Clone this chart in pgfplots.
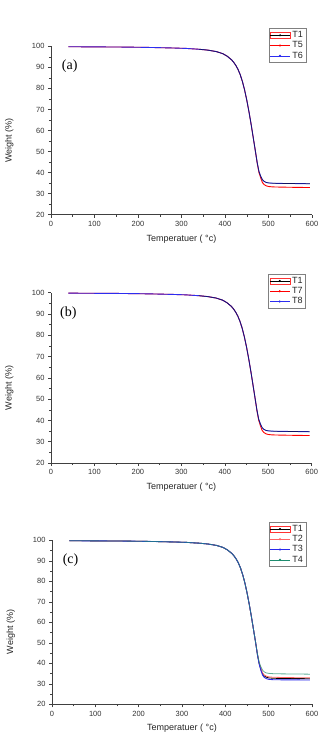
\documentclass[border=0pt]{standalone}
\usepackage{pgfplots}
\usepackage{pgfplotstable}
\pgfplotsset{compat=1.18}
\usepackage{fontspec}
\setmainfont{Liberation Sans}
\newfontfamily\seriffont{Liberation Serif}

\definecolor{cT2}{RGB}{255,100,100}
\definecolor{cT3}{RGB}{40,40,235}
\definecolor{cT4}{RGB}{30,140,110}
\definecolor{cBlue}{RGB}{45,45,240}

\pgfplotstableread{
x y
40 99.8
80 99.75
120 99.7
160 99.65
200 99.55
240 99.4
280 99.2
310 99.0
340 98.6
360 98.2
380 97.5
395 96.5
405 95.3
415 93.6
420 92.4
425 90.9
430 89.0
435 86.5
440 83.3
445 79.3
450 74.5
455 69.0
460 63.0
465 56.5
470 50.0
474 44.8
478 40.6
482 38.3
486 36.6
490 35.8
495 35.3
500 35.1
510 34.95
530 34.85
560 34.8
595 34.7
}\Thigh

\pgfplotstableread{
x y
40 99.8
80 99.75
120 99.7
160 99.65
200 99.55
240 99.4
280 99.2
310 99.0
340 98.6
360 98.2
380 97.5
395 96.5
405 95.3
415 93.6
420 92.4
425 90.9
430 89.0
435 86.5
440 83.3
445 79.3
450 74.5
455 69.0
460 63.0
465 56.5
470 50.0
474 44.5
478 40.1
482 37.5
486 35.3
490 34.3
495 33.7
500 33.4
510 33.2
530 33.1
560 33.0
595 32.9
}\Tmid

\pgfplotstableread{
x y
40 99.8
80 99.75
120 99.7
160 99.65
200 99.55
240 99.4
280 99.2
310 99.0
340 98.6
360 98.2
380 97.5
395 96.5
405 95.3
415 93.6
420 92.4
425 90.9
430 89.0
435 86.5
440 83.3
445 79.3
450 74.5
455 69.0
460 63.0
465 56.5
470 50.0
474 44.4
478 39.9
482 37.0
486 34.8
490 33.8
495 33.2
500 32.9
510 32.7
530 32.6
560 32.55
595 32.5
}\Tlow

\pgfplotstableread{
x y
40 99.8
80 99.75
120 99.7
160 99.65
200 99.55
240 99.4
280 99.2
310 99.0
340 98.6
360 98.2
380 97.5
395 96.5
405 95.3
415 93.6
420 92.4
425 90.9
430 89.0
435 86.5
440 83.3
445 79.3
450 74.5
455 69.0
460 63.0
465 56.5
470 50.0
474 44.3
478 39.7
482 36.6
486 34.2
490 33.1
495 32.5
500 32.2
510 32.0
530 31.95
560 31.9
595 31.85
}\Tlowest

\pgfplotsset{
  tga/.style={
    scale only axis, width=261pt,
    xmin=0, xmax=600, ymin=20, ymax=100,
    xtick={0,100,...,600}, ytick={20,30,...,100},
    minor x tick num=1, minor y tick num=1,
    axis x line*=bottom, axis y line*=left,
    axis line style={-, black!75, line width=0.6pt},
    tick align=outside, major tick length=3pt, minor tick length=2pt,
    every tick/.style={black!75, line width=0.5pt},
    tick label style={font=\fontsize{7.5}{8}\selectfont, text=black!80},
    /pgf/number format/assume math mode=true,
    label style={font=\fontsize{9}{10}\selectfont, text=black!85},
    xlabel={Temperatuer ( °c)}, ylabel={Weight (\%)},
    xlabel style={at={(axis description cs:0.5,-0.1425)}, anchor=center},
    ylabel style={at={(axis description cs:-0.160,0.44)}, anchor=center},
    legend cell align=left,
    legend style={anchor=north east, draw=black!50, line width=0.4pt,
      inner sep=1pt, row sep=-1.5pt, font=\fontsize{9}{9}\selectfont,
      text=black!85},
    clip=false,
  },
  limg/.style={legend image code/.code={
      \draw[line width=0.5pt] (0pt,0pt) -- (20pt,0pt);
      \fill (10pt,0pt) circle (0.8pt);}},
  limgT1/.style={legend image code/.code={
      \draw[red!80, line width=0.3pt] (0pt,-3pt) rectangle (20pt,3pt);
      \draw[black, line width=0.5pt] (0pt,0pt) -- (20pt,0pt);
      \fill[black] (10pt,0pt) circle (0.8pt);}},
}

\begin{document}
\begin{tikzpicture}
\useasboundingbox (0pt,0pt) rectangle (322pt,-738pt);

% ---------- (a)
\begin{axis}[tga, at={(51pt,-214.7pt)}, anchor=south west, height=168.4pt,
  legend style={at={(0.977,1.107)}}]
\addlegendimage{black, limgT1}\addlegendentry{T1}
\addlegendimage{red, limg}\addlegendentry{T5}
\addlegendimage{cBlue, limg}\addlegendentry{T6}
\addplot[red, line width=0.9pt, forget plot] table {\Tmid};
\addplot[cBlue, line width=0.9pt, forget plot] table {\Thigh};
\addplot[black, line width=0.6pt, opacity=0.6, restrict x to domain=330:600, forget plot] table {\Thigh};
\node[font=\seriffont\fontsize{14}{14}\selectfont, anchor=west, inner sep=0pt] at (axis cs:24.6,90.6) {(a)};
\end{axis}

% ---------- (b)
\begin{axis}[tga, at={(51pt,-463pt)}, anchor=south west, height=170.3pt, width=260.7pt,
  legend style={at={(0.977,1.11)}},
  xlabel style={at={(axis description cs:0.5,-0.141)}}]
\addlegendimage{black, limgT1}\addlegendentry{T1}
\addlegendimage{red, limg}\addlegendentry{T7}
\addlegendimage{cBlue, limg}\addlegendentry{T8}
\addplot[red, line width=0.9pt, forget plot] table {\Tmid};
\addplot[cBlue, line width=0.9pt, forget plot] table {\Thigh};
\addplot[black, line width=0.6pt, opacity=0.6, restrict x to domain=330:600, forget plot] table {\Thigh};
\node[font=\seriffont\fontsize{14}{14}\selectfont, anchor=west, inner sep=0pt] at (axis cs:20.7,90.6) {(b)};
\end{axis}

% ---------- (c)
\begin{axis}[tga, at={(52pt,-704.3pt)}, anchor=south west, height=164pt, width=260pt,
  legend style={at={(0.977,1.112)}},
  ylabel style={at={(axis description cs:-0.158,0.44)}},
  xlabel style={at={(axis description cs:0.5,-0.143)}}]
\addlegendimage{black, limgT1}\addlegendentry{T1}
\addlegendimage{cT2, limg}\addlegendentry{T2}
\addlegendimage{cT3, limg}\addlegendentry{T3}
\addlegendimage{cT4, limg}\addlegendentry{T4}
\addplot[black, line width=0.8pt, forget plot] table {\Tlow};
\addplot[cT2, line width=0.8pt, forget plot] table {\Tmid};
\addplot[cT3, line width=0.9pt, forget plot] table {\Tlowest};
\addplot[cT4, line width=0.8pt, opacity=0.7, forget plot] table {\Thigh};
\node[font=\seriffont\fontsize{14}{14}\selectfont, anchor=west, inner sep=0pt] at (axis cs:24.5,90.4) {(c)};
\end{axis}
\end{tikzpicture}
\end{document}
